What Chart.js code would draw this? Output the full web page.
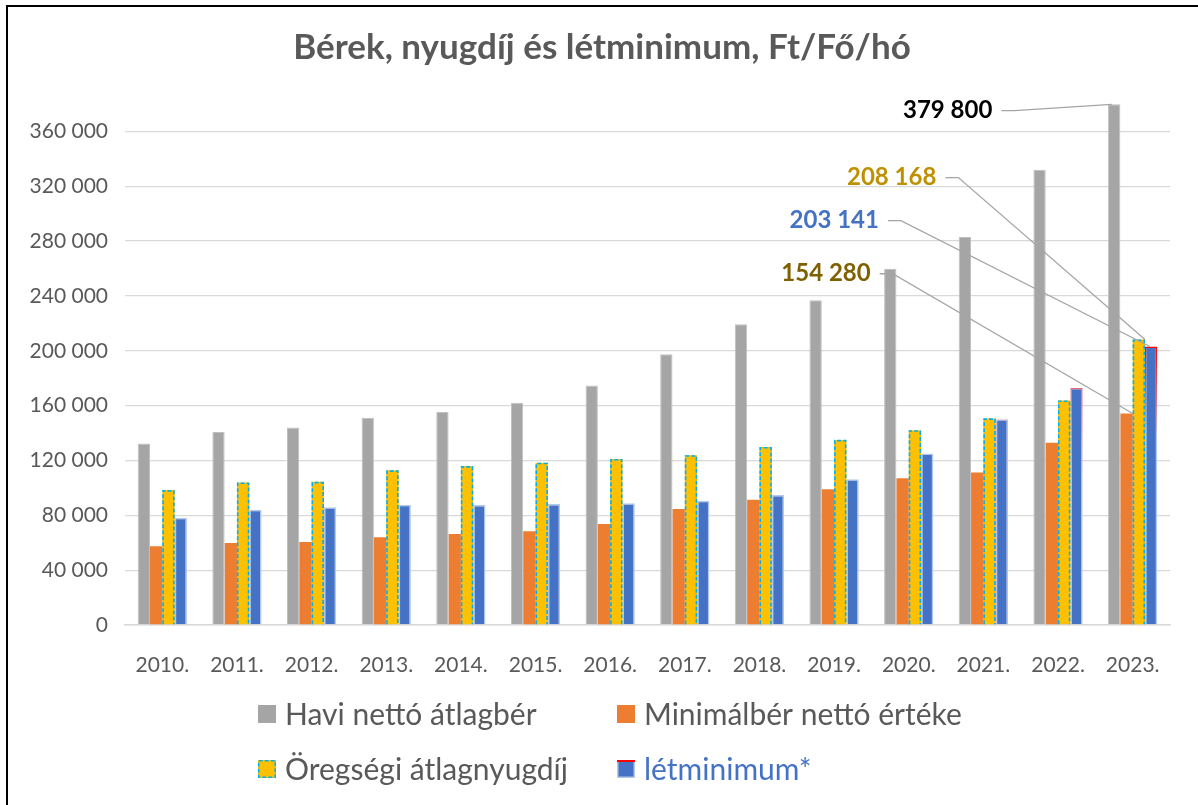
<!DOCTYPE html>
<html lang="hu">
<head>
<meta charset="utf-8">
<title>Bérek, nyugdíj és létminimum</title>
<script src="https://cdn.jsdelivr.net/npm/chart.js@4.4.1/dist/chart.umd.min.js"></script>
<style>
  html, body { margin: 0; padding: 0; background: #fff; overflow: hidden; }
  #wrap { position: relative; width: 1198px; height: 805px; }
  #frame { position: absolute; left: 6px; top: 5px; width: 1300px; height: 900px;
           border: 2px solid #000; pointer-events: none; }
</style>
</head>
<body>
<div id="wrap">
  <canvas id="berek" width="1198" height="805"></canvas>
  <div id="frame"></div>
</div>
<script>
// Ft/fő/hó
const years = ['2010.', '2011.', '2012.', '2013.', '2014.', '2015.', '2016.',
               '2017.', '2018.', '2019.', '2020.', '2021.', '2022.', '2023.'];
const avgNetWage = [132400, 140800, 144100, 151200, 155400, 162100, 174700,
                    197400, 219300, 236800, 259800, 283000, 332100, 379800];
const minWageNet = [57500, 59800, 60600, 64000, 66300, 68400, 73600,
                    84600, 91400, 99000, 107000, 111200, 132900, 154280];
const oldAgePension = [98400, 103900, 104400, 112800, 115900, 118300, 121100,
                       123800, 129800, 135000, 142000, 150700, 163700, 208168];
const subsistence = [78300, 84100, 85900, 87700, 87500, 88200, 88800,
                     90600, 94800, 106300, 125100, 150100, 172900, 203141];
const yTickValues = [0, 40000, 80000, 120000, 160000, 200000, 240000, 280000, 320000, 360000];
const yMax = 380000;

const FONT = 'Lato, "Open Sans", sans-serif';
const TEXT = '#595959';

function fmt(v) {
  return String(Math.round(v)).replace(/\B(?=(\d{3})+(?!\d))/g, ' ');
}

// callouts for the last year: label spot given in axis units (category index, value)
const callouts = [
  { ds: 0, color: '#000000', at: [11.12, 375200], dx: -0.2 },
  { ds: 2, color: '#BF9000', at: [10.37, 326300], dx: 0.5 },
  { ds: 3, color: '#4472C4', at: [9.60, 294900], dx: -0.1 },
  { ds: 1, color: '#7F6000', at: [9.49, 256200], dx: 0.5 },
];

const titlePlugin = {
  id: 'titleText',
  afterDraw(chart) {
    const ctx = chart.ctx;
    ctx.save();
    ctx.font = 'bold 35px ' + FONT;
    ctx.fillStyle = TEXT;
    ctx.textAlign = 'center';
    ctx.textBaseline = 'middle';
    ctx.fillText('Bérek, nyugdíj és létminimum, Ft/Fő/hó', 602, 48);
    ctx.restore();
  }
};

// dashed cyan outline on the pension bars
const dashedOutline = {
  id: 'dashedOutline',
  afterDatasetsDraw(chart) {
    const ctx = chart.ctx;
    chart.getDatasetMeta(2).data.forEach(bar => {
      const p = bar.getProps(['x', 'y', 'base', 'width'], true);
      const l = p.x - p.width / 2 + 0.75, r = p.x + p.width / 2 - 0.75;
      ctx.save();
      ctx.strokeStyle = '#00B0F0';
      ctx.lineWidth = 1.6;
      ctx.setLineDash([4, 2]);
      ctx.beginPath();
      ctx.moveTo(l, p.base);
      ctx.lineTo(l, p.y + 0.75);
      ctx.lineTo(r, p.y + 0.75);
      ctx.lineTo(r, p.base);
      ctx.stroke();
      ctx.restore();
    });
  }
};

const calloutPlugin = {
  id: 'callouts',
  afterDatasetsDraw(chart) {
    const ctx = chart.ctx;
    const xs = chart.scales.x, ys = chart.scales.y;
    const last = years.length - 1;
    callouts.forEach(c => {
      const ds = chart.data.datasets[c.ds];
      const bar = chart.getDatasetMeta(c.ds).data[last];
      const p = bar.getProps(['x', 'y', 'width'], true);
      const tx = xs.getPixelForValue(c.at[0]);
      const ty = ys.getPixelForValue(c.at[1]);
      ctx.save();
      ctx.strokeStyle = '#A5A5A5';
      ctx.lineWidth = 1.3;
      ctx.beginPath();
      ctx.moveTo(tx + 9, ty);
      ctx.lineTo(tx + 22, ty);
      ctx.lineTo(p.x + c.dx * p.width, p.y);
      ctx.stroke();
      ctx.font = 'bold 24px ' + FONT;
      ctx.fillStyle = c.color;
      ctx.textAlign = 'right';
      ctx.textBaseline = 'middle';
      ctx.fillText(fmt(ds.data[last]), tx, ty);
      ctx.restore();
    });
  }
};

// two-column legend under the plot
const legendPlugin = {
  id: 'gridLegend',
  afterDraw(chart) {
    const ctx = chart.ctx;
    const cols = [258, 617], rows = [714, 769], box = 18;
    chart.data.datasets.forEach((ds, i) => {
      const x = cols[i % 2], y = rows[Math.floor(i / 2)];
      const top = y - box / 2;
      ctx.save();
      ctx.fillStyle = ds.backgroundColor;
      ctx.fillRect(x, top, box, box);
      if (i === 2) {
        ctx.strokeStyle = '#00B0F0';
        ctx.lineWidth = 1.5;
        ctx.setLineDash([4, 2]);
        ctx.strokeRect(x + 0.75, top + 0.75, box - 1.5, box - 1.5);
      }
      if (i === 3) {
        ctx.strokeStyle = '#B4C7E7';
        ctx.lineWidth = 1.5;
        ctx.strokeRect(x + 0.75, top + 0.75, box - 1.5, box - 1.5);
        ctx.fillStyle = '#FF0000';
        ctx.fillRect(x, top, box, 2);
      }
      ctx.font = '30px ' + FONT;
      ctx.fillStyle = i === 3 ? '#4472C4' : TEXT;
      ctx.textAlign = 'left';
      ctx.textBaseline = 'middle';
      ctx.fillText(ds.label, x + 27, y + 1);
      ctx.restore();
    });
  }
};

function subsistenceBorder(ctx) {
  const i = ctx.dataIndex;
  if (i < 11) return '#B4C7E7';
  if (i === 11) return '#C9B8D8';
  const chart = ctx.chart;
  if (!chart.chartArea) return '#B4C7E7';
  const top = chart.scales.y.getPixelForValue(ctx.raw);
  const g = chart.ctx.createLinearGradient(0, top, 0, top + 90);
  g.addColorStop(0, i === 13 ? '#FF0000' : '#E8637A');
  g.addColorStop(1, '#B4C7E7');
  return g;
}

new Chart(document.getElementById('berek'), {
  type: 'bar',
  data: {
    labels: years,
    datasets: [
      { label: 'Havi nettó átlagbér', data: avgNetWage, backgroundColor: '#A5A5A5',
        borderColor: '#BFBFBF', borderWidth: 1 },
      { label: 'Minimálbér nettó értéke', data: minWageNet, backgroundColor: '#ED7D31',
        borderWidth: 0 },
      { label: 'Öregségi átlagnyugdíj', data: oldAgePension, backgroundColor: '#FFC000',
        borderWidth: 0 },
      { label: 'létminimum*', data: subsistence, backgroundColor: '#4472C4',
        borderColor: subsistenceBorder, borderWidth: 1.5 },
    ],
  },
  options: {
    responsive: false,
    animation: false,
    layout: { padding: { top: 104, right: 28, bottom: 120, left: 0 } },
    datasets: { bar: { categoryPercentage: 0.66, barPercentage: 1 } },
    plugins: {
      legend: { display: false },
      title: { display: false },
      tooltip: { enabled: false },
    },
    scales: {
      x: {
        grid: { display: false },
        border: { color: '#D9D9D9', width: 1.5 },
        ticks: { color: TEXT, font: { family: FONT, size: 21 }, padding: 20 },
        afterFit: s => { s.height = 60; },
      },
      y: {
        min: 0,
        max: yMax,
        border: { display: false },
        grid: { color: '#D9D9D9', lineWidth: 1.3, drawTicks: false },
        ticks: {
          padding: 17,
          color: TEXT,
          font: { family: FONT, size: 21 },
          callback: v => fmt(v),
        },
        afterBuildTicks: s => { s.ticks = yTickValues.map(v => ({ value: v })); },
        afterFit: s => { s.width = 125; },
      },
    },
  },
  plugins: [titlePlugin, dashedOutline, calloutPlugin, legendPlugin],
});
</script>
</body>
</html>
